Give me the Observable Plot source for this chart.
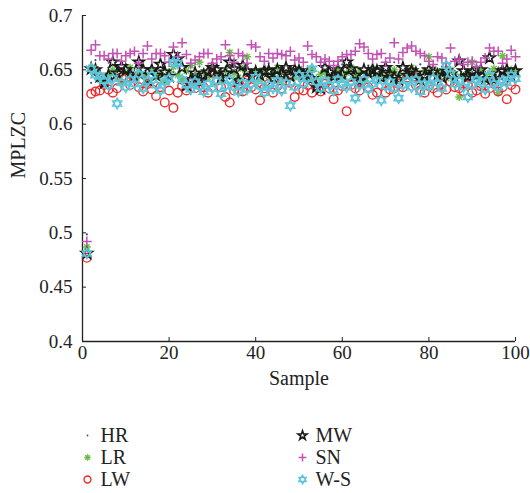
<!DOCTYPE html>
<html><head><meta charset="utf-8">
<script src="https://cdn.jsdelivr.net/npm/d3@7"></script>
<script src="https://cdn.jsdelivr.net/npm/@observablehq/plot@0.6"></script>
<style>
body{margin:0;background:#fff}
#chart{width:530px}
svg{display:block}
</style>
</head><body><div id="chart"></div>
<script>
const seriesNames = ["HR", "LR", "LW", "MW", "SN", "W-S"];
const xTicks = [0, 20, 40, 60, 80, 100];
const yTicks = [0.4, 0.45, 0.5, 0.55, 0.6, 0.65, 0.7];

const HR = [0.4985,0.638,0.659,0.649,0.645,0.652,0.642,0.648,0.655,0.640,
0.647,0.651,0.644,0.658,0.646,0.641,0.650,0.645,0.653,0.639,
0.648,0.656,0.644,0.650,0.642,0.647,0.653,0.640,0.646,0.651,
0.644,0.657,0.648,0.642,0.650,0.645,0.653,0.641,0.647,0.652,
0.644,0.649,0.656,0.643,0.648,0.651,0.640,0.646,0.654,0.643,
0.649,0.645,0.652,0.641,0.658,0.647,0.644,0.650,0.642,0.655,
0.646,0.649,0.643,0.651,0.645,0.654,0.640,0.647,0.652,0.644,
0.649,0.657,0.642,0.646,0.651,0.643,0.648,0.655,0.641,0.647,
0.650,0.644,0.653,0.646,0.642,0.649,0.645,0.652,0.640,0.648,
0.654,0.643,0.647,0.651,0.645,0.650,0.642,0.655,0.646,0.649];

const LR = [0.487,0.652,0.648,0.641,0.637,0.645,0.650,0.644,0.639,0.647,
0.652,0.642,0.648,0.645,0.638,0.650,0.643,0.646,0.640,0.648,
0.653,0.645,0.641,0.649,0.654,0.644,0.657,0.648,0.643,0.652,
0.646,0.640,0.649,0.666,0.647,0.643,0.651,0.662,0.645,0.648,
0.641,0.650,0.644,0.647,0.652,0.640,0.646,0.649,0.643,0.651,
0.647,0.644,0.650,0.642,0.646,0.648,0.641,0.645,0.650,0.643,
0.647,0.652,0.645,0.649,0.641,0.646,0.651,0.644,0.648,0.642,
0.647,0.650,0.645,0.641,0.648,0.652,0.646,0.643,0.649,0.662,
0.651,0.645,0.648,0.642,0.650,0.646,0.625,0.644,0.648,0.657,
0.645,0.649,0.641,0.647,0.651,0.629,0.663,0.646,0.650,0.648];

const LW = [0.477,0.628,0.630,0.631,0.636,0.632,0.629,0.633,0.643,0.642,
0.636,0.643,0.634,0.630,0.637,0.632,0.626,0.634,0.620,0.631,
0.615,0.629,0.635,0.631,0.638,0.633,0.636,0.634,0.629,0.647,
0.640,0.634,0.625,0.620,0.631,0.636,0.630,0.640,0.634,0.632,
0.622,0.633,0.637,0.629,0.635,0.633,0.640,0.638,0.625,0.632,
0.631,0.636,0.629,0.634,0.630,0.637,0.633,0.623,0.631,0.635,
0.612,0.636,0.633,0.631,0.638,0.634,0.627,0.629,0.636,0.629,
0.632,0.633,0.637,0.634,0.643,0.648,0.636,0.631,0.629,0.635,
0.633,0.629,0.637,0.632,0.639,0.634,0.633,0.630,0.636,0.629,
0.631,0.635,0.628,0.633,0.637,0.630,0.634,0.623,0.636,0.632];

const MW = [0.481,0.651,0.650,0.644,0.638,0.645,0.657,0.647,0.653,0.650,
0.646,0.643,0.657,0.650,0.641,0.650,0.645,0.655,0.648,0.644,
0.664,0.660,0.652,0.636,0.641,0.647,0.639,0.645,0.648,0.652,
0.650,0.643,0.647,0.657,0.651,0.640,0.654,0.649,0.644,0.648,
0.645,0.649,0.649,0.642,0.650,0.646,0.652,0.644,0.650,0.649,
0.645,0.647,0.642,0.634,0.633,0.652,0.648,0.644,0.650,0.646,
0.657,0.651,0.645,0.640,0.650,0.647,0.650,0.649,0.643,0.652,
0.646,0.643,0.641,0.652,0.645,0.649,0.647,0.641,0.644,0.650,
0.648,0.645,0.643,0.649,0.646,0.642,0.658,0.649,0.644,0.648,
0.645,0.650,0.642,0.661,0.641,0.646,0.649,0.650,0.644,0.649];

const SN = [0.492,0.668,0.673,0.663,0.663,0.660,0.665,0.665,0.658,0.663,
0.665,0.667,0.656,0.665,0.672,0.660,0.665,0.665,0.663,0.657,
0.671,0.662,0.675,0.664,0.656,0.659,0.662,0.665,0.665,0.656,
0.660,0.662,0.673,0.663,0.657,0.665,0.663,0.656,0.673,0.671,
0.662,0.658,0.665,0.661,0.665,0.664,0.663,0.667,0.659,0.661,
0.657,0.672,0.664,0.662,0.657,0.660,0.658,0.654,0.658,0.662,
0.664,0.664,0.667,0.674,0.671,0.665,0.660,0.664,0.665,0.657,
0.661,0.675,0.660,0.666,0.670,0.672,0.667,0.665,0.663,0.658,
0.655,0.662,0.661,0.656,0.670,0.658,0.660,0.655,0.657,0.658,
0.653,0.657,0.661,0.670,0.667,0.667,0.656,0.660,0.668,0.662];

const WS = [0.481,0.651,0.645,0.644,0.640,0.636,0.642,0.619,0.638,0.634,
0.641,0.637,0.646,0.633,0.640,0.645,0.636,0.631,0.639,0.642,
0.657,0.656,0.641,0.636,0.632,0.639,0.635,0.630,0.637,0.633,
0.640,0.628,0.635,0.641,0.634,0.630,0.638,0.632,0.637,0.643,
0.635,0.629,0.636,0.633,0.640,0.631,0.638,0.617,0.634,0.645,
0.637,0.642,0.651,0.639,0.633,0.640,0.636,0.631,0.641,0.637,
0.634,0.639,0.624,0.636,0.641,0.632,0.637,0.640,0.622,0.635,
0.639,0.633,0.624,0.636,0.640,0.634,0.641,0.630,0.637,0.635,
0.642,0.638,0.633,0.654,0.646,0.637,0.640,0.634,0.625,0.636,
0.641,0.639,0.632,0.645,0.637,0.634,0.640,0.638,0.645,0.642];

// custom symbols
const hexagram = {
  draw(ctx, size) {
    const r = Math.sqrt(size / Math.PI);
    for (const start of [-90, 90]) {
      for (let k = 0; k < 3; k++) {
        const a = (start + k * 120) * Math.PI / 180;
        const x = r * Math.cos(a), y = r * Math.sin(a);
        if (k === 0) ctx.moveTo(x, y); else ctx.lineTo(x, y);
      }
      ctx.closePath();
    }
  }
};
const asterisk8 = {
  draw(ctx, size) {
    const r = Math.sqrt(size / Math.PI);
    for (let k = 0; k < 4; k++) {
      const a = k * Math.PI / 4;
      const x = r * Math.cos(a), y = r * Math.sin(a);
      ctx.moveTo(-x, -y); ctx.lineTo(x, y);
    }
  }
};

const styles = {
  "HR":  {symbol: "circle", fill: "#2f4fa8", stroke: "none", r: 1.1, strokeWidth: 0},
  "LR":  {symbol: asterisk8, fill: "none", stroke: "#6cc04a", r: 4, strokeWidth: 1.4},
  "LW":  {symbol: "circle", fill: "none", stroke: "#f02a2a", r: 4.3, strokeWidth: 1.4},
  "MW":  {symbol: "star", fill: "none", stroke: "#1a1a1a", r: 3.5, strokeWidth: 1.6},
  "SN":  {symbol: "plus", fill: "none", stroke: "#c252b4", r: 3.3, strokeWidth: 1.5},
  "W-S": {symbol: hexagram, fill: "none", stroke: "#5cc6dc", r: 5.3, strokeWidth: 1.4}
};
const seriesValues = {"HR": HR, "LR": LR, "LW": LW, "MW": MW, "SN": SN, "W-S": WS};

const rows = name => seriesValues[name].map((v, i) => ({sample: i + 1, value: v}));

const font = "Liberation Serif";

const chart = Plot.plot({
  width: 530, height: 400,
  marginLeft: 82, marginRight: 15, marginTop: 15, marginBottom: 59,
  style: {fontFamily: font, fontSize: "19px", color: "#222", background: "#fff"},
  x: {domain: [0, 100]},
  y: {domain: [0.4, 0.7]},
  marks: [
    Plot.axisX({ticks: xTicks, tickSize: -4, tickPadding: 8, tickFormat: d => String(d),
      label: null, fontSize: 19}),
    Plot.axisY({ticks: yTicks, tickSize: -4, tickPadding: 14, tickFormat: d => String(d),
      label: null, fontSize: 19}),
    Plot.text(["Sample"], {frameAnchor: "bottom", dy: 43, fontSize: 20, fill: "#222"}),
    Plot.text(["MPLZC"], {frameAnchor: "left", dx: -64, rotate: -90, fontSize: 20, fill: "#222"}),
    Plot.ruleX([0], {stroke: "#222", strokeWidth: 1.3}),
    Plot.ruleY([0.4], {stroke: "#222", strokeWidth: 1.3}),
    ...seriesNames.map(name => {
      const s = styles[name];
      return Plot.dot(rows(name), {x: "sample", y: "value", symbol: () => s.symbol,
        fill: s.fill, stroke: s.stroke, r: s.r, strokeWidth: s.strokeWidth});
    })
  ]
});

// legend (symbols drawn a bit smaller, as in the reference)
const legendItems = seriesNames.map((name, i) => ({name, col: Math.floor(i / 3), row: i % 3}));
const legend = Plot.plot({
  width: 530, height: 93, margin: 0,
  style: {fontFamily: font, fontSize: "20px", color: "#222", background: "#fff"},
  x: {type: "point", domain: [0, 1], range: [87, 302], padding: 0, axis: null},
  y: {type: "point", domain: [0, 1, 2], range: [34, 79], padding: 0, axis: null},
  marks: [
    ...seriesNames.map((name, i) => {
      const s = styles[name];
      return Plot.dot(legendItems.filter(d => d.name === name), {x: "col", y: "row", symbol: () => s.symbol,
        fill: s.fill, stroke: s.stroke, r: s.r * 0.8, strokeWidth: s.strokeWidth});
    }),
    Plot.text(legendItems, {x: "col", y: "row", text: "name", textAnchor: "start", dx: 13, fill: "#222"})
  ]
});

document.getElementById("chart").append(chart, legend);
</script></body></html>
